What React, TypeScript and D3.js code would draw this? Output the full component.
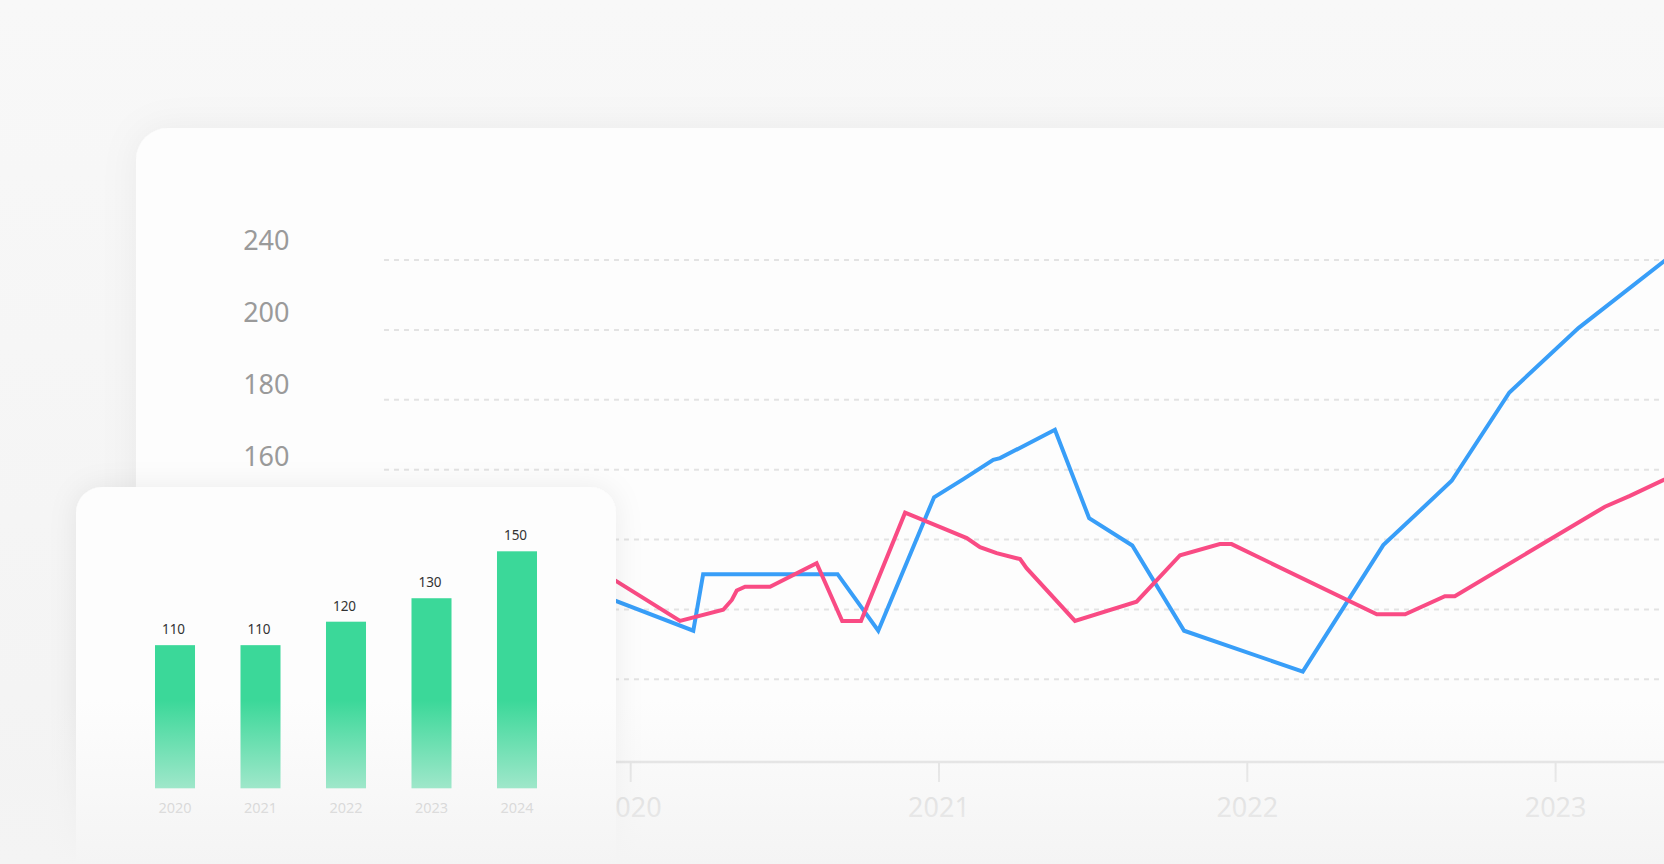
import React from "react";
import * as d3 from "d3";

// ---- data ----
const axisYears = [2020, 2021, 2022, 2023];
const gridValues = [240, 220, 200, 180, 160, 140, 120];
const yTickLabels = ["240", "200", "180", "160"];

const blueDates = [2019.77, 2020.203, 2020.235, 2020.671, 2020.803, 2020.984, 2021.079, 2021.176, 2021.198, 2021.376, 2021.487, 2021.627, 2021.795, 2022.18, 2022.441, 2022.663, 2022.85, 2023.074, 2023.466];
const blueValues = [148.6, 133.9, 150.1, 150.1, 133.9, 172.1, 177.3, 182.8, 183.3, 191.4, 166.1, 158.3, 133.9, 122.2, 158.4, 176.8, 202.1, 220.5, 247.5];

const pinkDates = [2019.77, 2020.16, 2020.3, 2020.328, 2020.344, 2020.371, 2020.452, 2020.603, 2020.686, 2020.747, 2020.89, 2021.014, 2021.09, 2021.133, 2021.187, 2021.263, 2021.284, 2021.441, 2021.641, 2021.782, 2021.911, 2021.949, 2022.42, 2022.512, 2022.641, 2022.673, 2023.16, 2023.241, 2023.468];
const pinkValues = [158.2, 136.7, 139.9, 142.7, 145.4, 146.5, 146.5, 153.2, 136.7, 136.7, 167.7, 163.2, 160.4, 157.8, 156.1, 154.4, 151.8, 136.7, 142.2, 155.5, 158.7, 158.7, 138.6, 138.6, 143.8, 143.8, 169.4, 172.5, 182.0];

const barYears = ["2020", "2021", "2022", "2023", "2024"];
const barValues = [110, 110, 120, 130, 150];

// ---- layout ----
const W = 1664;
const H = 864;
const FONT = "'Noto Sans', 'Open Sans', sans-serif";

export default function App() {
  const x = d3.scaleLinear().domain([2020, 2021]).range([630.7, 939]);
  const y = d3.scaleLinear().domain([120, 240]).range([679.3, 260]);
  const yLab = d3.scalePoint<string>().domain(yTickLabels).range([239.7, 455.3]);

  const line = d3
    .line<[number, number]>()
    .x((d) => x(d[0]))
    .y((d) => y(d[1]))
    .curve(d3.curveLinear);

  const blue = blueDates.map((d, i) => [d, blueValues[i]] as [number, number]);
  const pink = pinkDates.map((d, i) => [d, pinkValues[i]] as [number, number]);

  const bx = d3.scaleBand<string>().domain(barYears).range([155, 537]).paddingInner(0.532).paddingOuter(0);
  const by = d3.scaleLinear().domain([49, 150]).range([788.3, 551.3]);

  const axisY = 762;
  const gridX0 = 384;

  return (
    <div style={{ position: "fixed", left: 0, top: 0, width: W, height: H, overflow: "hidden" }}>
      <svg width={W} height={H} viewBox={`0 0 ${W} ${H}`} style={{ display: "block" }}>
        <defs>
          <linearGradient id="bg" x1="0" y1="0" x2="0" y2="1">
            <stop offset="0" stopColor="#f8f8f8" />
            <stop offset="1" stopColor="#f3f3f3" />
          </linearGradient>
          <filter id="shadowBig" x="-10%" y="-20%" width="120%" height="140%">
            <feDropShadow dx="0" dy="0" stdDeviation="18" floodColor="#000" floodOpacity="0.05" />
          </filter>
          <filter id="shadowSmall" x="-20%" y="-20%" width="140%" height="140%">
            <feDropShadow dx="0" dy="0" stdDeviation="14" floodColor="#000" floodOpacity="0.07" />
          </filter>
          <linearGradient id="fog" gradientUnits="userSpaceOnUse" x1="0" y1="700" x2="0" y2="864">
            <stop offset="0" stopColor="#f4f4f4" stopOpacity="0" />
            <stop offset="1" stopColor="#f4f4f4" stopOpacity="1" />
          </linearGradient>
        </defs>

        <rect x={0} y={0} width={W} height={H} fill="url(#bg)" />

        {/* big card */}
        <rect x={136} y={128} width={1620} height={820} rx={32} fill="#fdfdfd" filter="url(#shadowBig)" />

        {/* grid */}
        {gridValues.map((v) => (
          <line key={v} x1={gridX0} x2={W} y1={y(v)} y2={y(v)} stroke="#e3e3e3" strokeWidth={2} strokeDasharray="5 5" />
        ))}

        {/* y labels */}
        {yTickLabels.map((t) => (
          <text key={t} x={289.5} y={yLab(t)} textAnchor="end" dominantBaseline="central" fontFamily={FONT} fontSize={27} fill="#9a9a9a">
            {t}
          </text>
        ))}

        {/* x axis */}
        <line x1={gridX0} x2={W} y1={axisY} y2={axisY} stroke="#dcdcdc" strokeWidth={2.5} />
        {axisYears.map((yr) => (
          <g key={yr} transform={`translate(${x(yr)},0)`}>
            <line y1={axisY} y2={axisY + 20} stroke="#dcdcdc" strokeWidth={2} />
            <text y={806} textAnchor="middle" dominantBaseline="central" fontFamily={FONT} fontSize={27} fill="#c9c9c9">
              {yr}
            </text>
          </g>
        ))}

        {/* lines */}
        <path d={line(blue) || ""} fill="none" stroke="#389ef8" strokeWidth={4} strokeLinejoin="miter" strokeMiterlimit={3} />
        <path d={line(pink) || ""} fill="none" stroke="#f94b84" strokeWidth={4} strokeLinejoin="miter" strokeMiterlimit={3} />

        {/* small card */}
        <rect x={76} y={487} width={540} height={440} rx={26} fill="#fdfdfd" filter="url(#shadowSmall)" />
        {barYears.map((yr, i) => {
          const v = barValues[i];
          const bxv = bx(yr) || 0;
          return (
            <g key={yr}>
              <rect x={bxv} y={by(v)} width={bx.bandwidth()} height={by.range()[0] - by(v)} fill="#3bd899" />
              <text x={bxv + bx.bandwidth() / 2 - 1.5} y={by(v) - 16} textAnchor="middle" dominantBaseline="central" fontFamily={FONT} fontSize={13.5} fill="#333">
                {v}
              </text>
              <text x={bxv + bx.bandwidth() / 2} y={807} textAnchor="middle" dominantBaseline="central" fontFamily={FONT} fontSize={14.5} fill="#a8a8a8">
                {yr}
              </text>
            </g>
          );
        })}

        {/* bottom fog */}
        <rect x={0} y={700} width={W} height={164} fill="url(#fog)" />
      </svg>
    </div>
  );
}
